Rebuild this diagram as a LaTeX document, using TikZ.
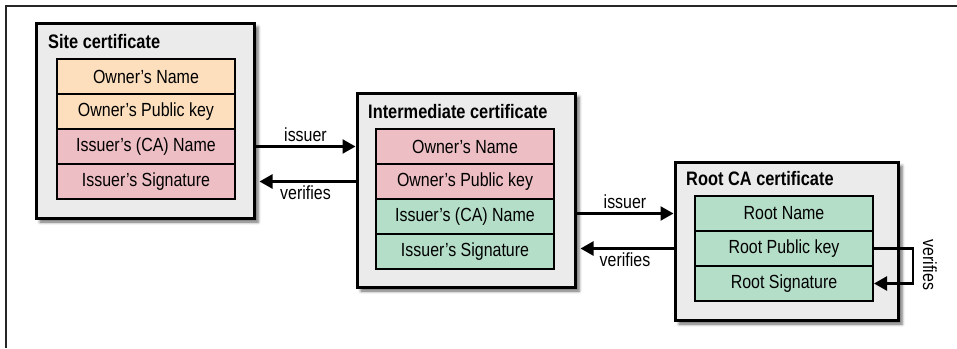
\documentclass[tikz,border=0pt]{standalone}
\usepackage{fontspec}
\setmainfont{Liberation Sans}[FakeStretch=0.84]
\usetikzlibrary{arrows.meta,shadows.blur,positioning}

\definecolor{certgray}{HTML}{EBEBEB}
\definecolor{ownerorange}{HTML}{FDDFBE}
\definecolor{issuerpink}{HTML}{EDBEC3}
\definecolor{rootgreen}{HTML}{B5DEC9}

\begin{document}
\begin{tikzpicture}[
            x=1pt, y=-1pt,
            every node/.style={
                font=\fontsize{19}{21}\selectfont
            },
            cert/.style={
                rectangle,
                draw=black,
                fill=certgray,
                line width=3pt,
                blur shadow={shadow xshift=4pt, shadow yshift=-4pt, shadow blur radius=3pt, shadow opacity=60}
            },
            title/.style={
                anchor=west,
                inner sep=0pt,
                font=\fontsize{19.5}{21}\selectfont\bfseries
            },
            field/.style={
                rectangle,
                draw=black,
                line width=2pt,
                minimum width=178pt,
                minimum height=35pt,
                inner sep=0pt,
                text centered
            },
            arr/.style={
                -{Triangle[length=13pt, width=14pt]},
                line width=2.4pt
            }
        ]
        \useasboundingbox (0, 0) rectangle (957, 348);

        % frame
        \draw[line width=2pt, black!85] (957, 6) -- (6, 6) -- (6, 348);

        % certificates
        \node[cert, minimum width=218pt, minimum height=195pt] (site) at (145, 120.5) {};
        \node[cert, minimum width=218pt, minimum height=194pt] (inter) at (466, 190) {};
        \node[cert, minimum width=223pt, minimum height=158pt] (root) at (786.5, 241) {};

        \node[title] (sitetitle) at (48, 42) {Site certificate};
        \node[title] (intertitle) at (368, 112) {Intermediate certificate};
        \node[title] (roottitle) at (686, 179) {Root CA certificate};

        % fields
        \node[field, fill=ownerorange] (s1) at (146, 76.5) {Owner’s Name};
        \node[field, fill=ownerorange] (s2) at (146, 111.5) {Owner’s Public key};
        \node[field, fill=issuerpink] (s3) at (146, 146.5) {Issuer’s (CA) Name};
        \node[field, fill=issuerpink] (s4) at (146, 181.5) {Issuer’s Signature};

        \node[field, fill=issuerpink] (i1) at (465, 146.5) {Owner’s Name};
        \node[field, fill=issuerpink] (i2) at (465, 181.5) {Owner’s Public key};
        \node[field, fill=rootgreen] (i3) at (465, 216.5) {Issuer’s (CA) Name};
        \node[field, fill=rootgreen] (i4) at (465, 251.5) {Issuer’s Signature};

        \node[field, fill=rootgreen] (r1) at (784, 213.5) {Root Name};
        \node[field, fill=rootgreen] (r2) at (784, 248.5) {Root Public key};
        \node[field, fill=rootgreen] (r3) at (784, 283.5) {Root Signature};

        \node[rotate=-90] (selfverifies) at (930, 265) {verifies};

        % lines
        \draw[arr] (site.east |- s3) -- node[above] {issuer} (inter.west |- s3);
        \draw[arr, shorten >=4pt] (inter.west |- s4) -- node[below] {verifies} (site.east |- s4);
        \draw[arr] (inter.east |- r1) -- node[above] {issuer} (root.west |- r1);
        \draw[arr, shorten >=4pt] (root.west |- r2) -- node[below] {verifies} (inter.east |- r2);
        \draw[arr] (r2.east) -- ++(39, 0) |- (r3.east);
    \end{tikzpicture}
\end{document}
